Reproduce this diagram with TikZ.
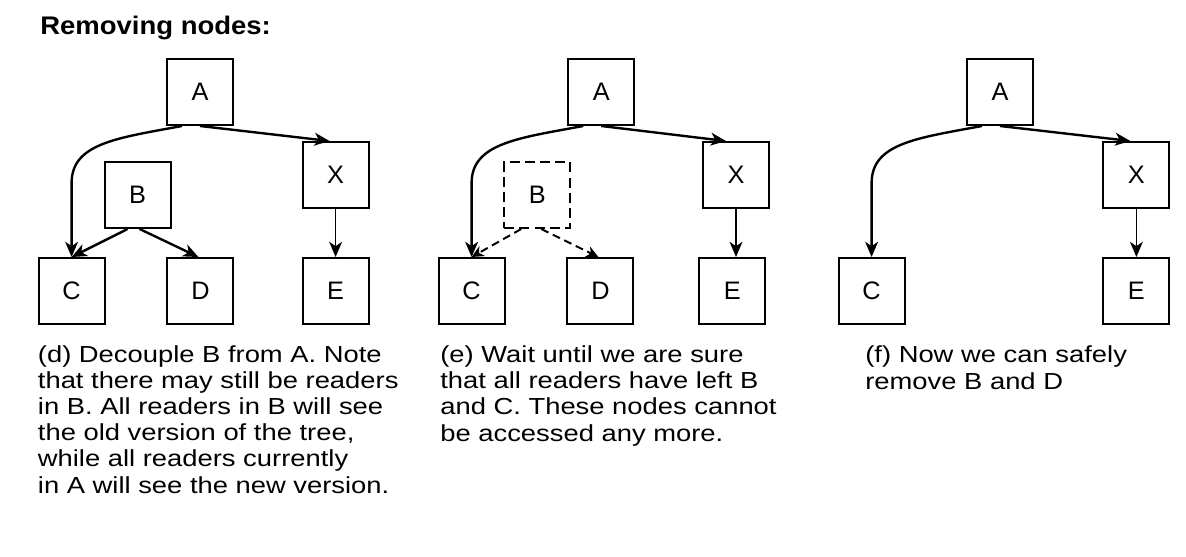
\documentclass[tikz,border=0pt]{standalone}
\usepackage{fontspec}
\setmainfont{Liberation Sans}
\usepackage{tikz}
\usetikzlibrary{arrows.meta}
\tikzstyle{box} = [draw, line width=1.4pt, minimum size=1.65cm, inner sep=0pt, font=\fontsize{18}{20}\selectfont]
\tikzstyle{ghost} = [box, dash pattern=on 0.25cm off 0.13cm]
\tikzstyle{link} = [line width=1.7pt, -{Stealth[length=0.38cm,width=0.32cm,inset=0.11cm]}]
\tikzstyle{thinlink} = [link, line width=1.2pt]
\tikzstyle{ghostlink} = [line width=1.4pt, dash pattern=on 0.2cm off 0.12cm, -{Stealth[length=0.3cm,width=0.28cm,inset=0.09cm]}]
\tikzstyle{caption} = [anchor=base west, align=left, inner sep=0pt, xscale=1.18, transform shape, font=\fontsize{16.5}{18.5}\selectfont]

\begin{document}
\begin{tikzpicture}
\useasboundingbox (0,0) rectangle (29.65,13.9);
\node[anchor=base west, inner sep=0pt, xscale=1.08, transform shape, font=\bfseries\fontsize{18.1}{20}\selectfont] (title) at (1.0,13.025) {Removing nodes:};
% (d)
\node[box] (dA) at (5.0,11.6) {A};
\node[box] (dX) at (8.39,9.525) {X};
\node[box] (dB) at (3.44,9.025) {B};
\node[box] (dC) at (1.79,6.625) {C};
\node[box] (dD) at (5.01,6.625) {D};
\node[box] (dE) at (8.39,6.625) {E};
\draw[link] ([xshift=-0.45cm]dA.south) .. controls +(-1.6,-0.3) and +(0,1.0) .. ([yshift=1.85cm]dC.north) -- (dC.north);
\draw[link] (dA.south) -- ([xshift=-0.15cm]dX.north);
\draw[link] ([xshift=-0.25cm]dB.south) -- (dC.north);
\draw[link] ([xshift=0.05cm]dB.south) -- ([xshift=-0.05cm]dD.north);
\draw[thinlink] (dX.south) -- (dE.north);
\node[caption] (dtext) at (0.94,1.575) {(d) Decouple B from A. Note\\that there may still be readers\\in B. All readers in B will see\\the old version of the tree,\\while all readers currently\\in A will see the new version.};
% (e)
\node[box] (eA) at (15.03,11.6) {A};
\node[box] (eX) at (18.4,9.525) {X};
\node[ghost] (eB) at (13.43,9.025) {B};
\node[box] (eC) at (11.79,6.625) {C};
\node[box] (eD) at (15.01,6.625) {D};
\node[box] (eE) at (18.31,6.625) {E};
\draw[link] ([xshift=-0.45cm]eA.south) .. controls +(-1.6,-0.3) and +(0,1.0) .. ([yshift=1.85cm]eC.north) -- (eC.north);
\draw[link] (eA.south) -- ([xshift=-0.25cm]eX.north);
\draw[ghostlink] ([xshift=-0.4cm]eB.south) -- (eC.north);
\draw[ghostlink] ([xshift=0.1cm]eB.south) -- ([xshift=-0.05cm]eD.north);
\draw[thinlink] (eX.south) -- (eX.south |- eE.north);
\node[caption] (etext) at (11.0,2.875) {(e) Wait until we are sure\\that all readers have left B\\and C. These nodes cannot\\be accessed any more.};
% (f)
\node[box] (fA) at (25.0,11.6) {A};
\node[box] (fX) at (28.41,9.525) {X};
\node[box] (fC) at (21.79,6.625) {C};
\node[box] (fE) at (28.41,6.625) {E};
\draw[link] ([xshift=-0.45cm]fA.south) .. controls +(-1.6,-0.3) and +(0,1.0) .. ([yshift=1.85cm]fC.north) -- (fC.north);
\draw[link] (fA.south) -- ([xshift=-0.15cm]fX.north);
\draw[thinlink] (fX.south) -- (fE.north);
\node[caption] (ftext) at (21.625,4.175) {(f) Now we can safely\\remove B and D};
\end{tikzpicture}
\end{document}
